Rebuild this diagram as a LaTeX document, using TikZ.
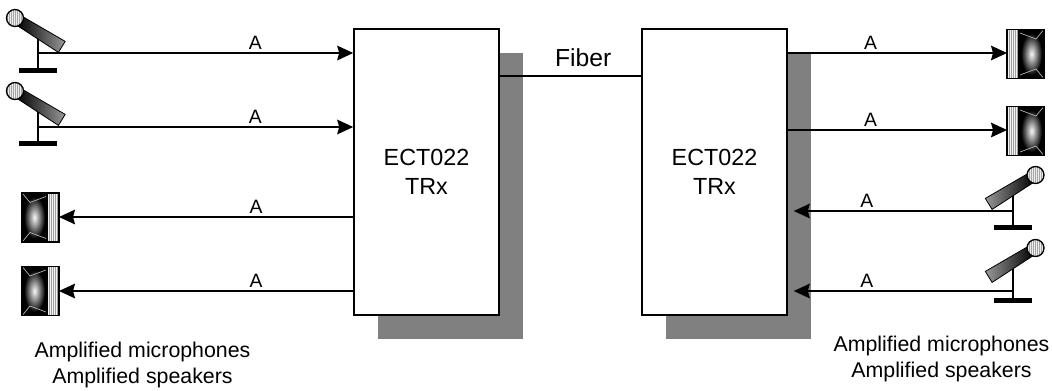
\documentclass[tikz,border=0pt]{standalone}
\usepackage{fontspec}
\setmainfont{Liberation Sans}
\usetikzlibrary{arrows.meta,shadows}

\newcommand\micicon[4]{% #1 scope options, #2 left colour, #3 middle colour, #4 right colour
\begin{scope}[#1]
  \draw[line width=1.5pt] (22.7,19) -- (22.7,52);
  \fill (4,50) rectangle (42,54.5);
  \shade[left color=#2, middle color=#3, right color=#4] (7,-1.8) -- (50.2,23.4) -- (43.4,34.4) -- (1.5,7.1) -- cycle;
  \draw[line width=0.6pt] (7,-1.8) -- (50.2,23.4) -- (43.4,34.4) -- (1.5,7.1) -- cycle;
  \begin{scope}
    \clip (0,0) circle[radius=8.5];
    \fill[white!85!gray] (-9,-9) rectangle (9,9);
    \draw[gray!70, line width=0.3pt, step=2] (-10,-10) grid (10,10);
  \end{scope}
  \draw[line width=1pt] (0,0) circle[radius=8.5];
\end{scope}}

\newcommand\spkicon[1]{% origin at the outer edge of the grille, facing +x
\begin{scope}[#1]
  \fill[black] (-37,-24.5) rectangle (-12,24.5);
  \shade[inner color=white!95!gray, outer color=black] (-24.5,0) ellipse[x radius=10.5, y radius=21];
  \draw[gray!55, line width=0.5pt] (-36,-23.5) -- (-29,-15) -- (-13,-21);
  \draw[gray!55, line width=0.5pt] (-36,23.5) -- (-29,15) -- (-13,21);
  \begin{scope}
    \clip (-12,-24.5) rectangle (0,24.5);
    \fill[white!90!gray] (-12,-24.5) rectangle (0,24.5);
    \draw[gray!75, line width=0.3pt, step=2] (-13,-26) grid (1,26);
  \end{scope}
  \draw[line width=1.1pt] (-37,-24.5) rectangle (0,24.5);
  \draw[line width=0.8pt] (-12,-24.5) -- (-12,24.5);
\end{scope}}

\begin{document}
\begin{tikzpicture}[x=0.75pt,y=-0.75pt,
  lw/.style={line width=1.2pt},
  trx/.style={draw=black, line width=1.2pt, fill=white,
    minimum width=108.75pt, minimum height=214.5pt, inner sep=0pt,
    align=center, font=\fontsize{17.5}{21.75}\selectfont,
    drop shadow={opacity=1, fill=black!50, shadow xshift=18pt, shadow yshift=-18pt}},
  sig/.style={line width=1.2pt, -{Stealth[length=12pt, width=11pt, inset=1.5pt]}},
  lbl/.style={font=\fontsize{14.5}{17}\selectfont, inner sep=0pt, above=2pt},
  caption/.style={font=\fontsize{16}{19.5}\selectfont, inner sep=0pt, anchor=base}
]
\useasboundingbox (0,0) rectangle (1052,390);

% transceivers
\node[trx] (b1) at (426.5,172) {ECT022\\TRx};
\node[trx] (b2) at (714.5,172) {ECT022\\TRx};

% icons
\micicon{shift={(15,18)}}{black}{black!85}{black!40}
\micicon{shift={(15,91)}}{black}{black!85}{black!40}
\micicon{shift={(1035.5,175)}, xscale=-1}{black!40}{black!85}{black}
\micicon{shift={(1035.5,248)}, xscale=-1}{black!40}{black!85}{black}
\spkicon{shift={(59,217.5)}}
\spkicon{shift={(59,291)}}
\spkicon{shift={(1007,54)}, xscale=-1}
\spkicon{shift={(1007,131)}, xscale=-1}

% connector ends
\coordinate (m1) at (37.7,53);
\coordinate (m2) at (37.7,127);
\coordinate (s1) at (59,217);
\coordinate (s2) at (59,291);
\coordinate (s3) at (1007,53);
\coordinate (s4) at (1007,130);
\coordinate (m3) at (1013.3,211);
\coordinate (m4) at (1013.3,291);
\coordinate (f) at (570,76);

% connectors
\draw[sig] (m1) -- node[lbl, pos=0.69] {A} (m1 -| b1.west);
\draw[sig] (m2) -- node[lbl, pos=0.69] {A} (m2 -| b1.west);
\draw[sig] (b1.west |- s1) -- node[lbl, pos=0.33] {A} (s1);
\draw[sig] (b1.west |- s2) -- node[lbl, pos=0.33] {A} (s2);
\draw[lw] (f -| b1.east) -- node[lbl, pos=0.59, above=4pt, font=\fontsize{18.5}{22}\selectfont] {Fiber} (f -| b2.west);
\draw[sig] (b2.east |- s3) -- node[lbl, pos=0.377] {A} (s3);
\draw[sig] (b2.east |- s4) -- node[lbl, pos=0.377] {A} (s4);
\draw[sig, shorten >=4.5pt] (m3) -- node[lbl, pos=0.65] {A} (m3 -| b2.east);
\draw[sig, shorten >=4.5pt] (m4) -- node[lbl, pos=0.65] {A} (m4 -| b2.east);

% captions
\node[caption] (c1) at (142.5,357) {Amplified microphones};
\node[caption] (c2) at (142.5,383) {Amplified speakers};
\node[caption] (c3) at (941.5,351) {Amplified microphones};
\node[caption] (c4) at (941.5,377) {Amplified speakers};
\end{tikzpicture}
\end{document}
